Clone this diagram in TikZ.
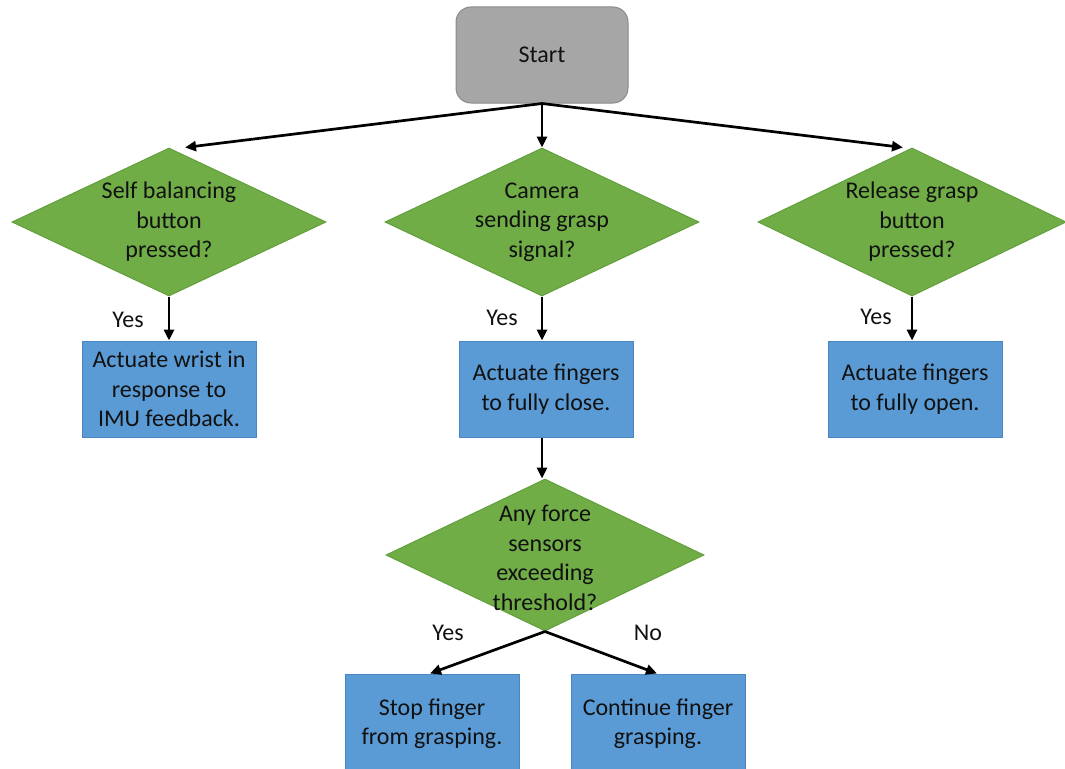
\documentclass[tikz,border=0pt]{standalone}
\usepackage{fontspec}
\setmainfont{Carlito}
\usetikzlibrary{shapes.geometric,arrows.meta}
\definecolor{startfill}{HTML}{A6A6A6}
\definecolor{startline}{HTML}{8A8A8A}
\definecolor{decfill}{HTML}{70AD47}
\definecolor{decline}{HTML}{62A03C}
\definecolor{actfill}{HTML}{5B9BD5}
\definecolor{actline}{HTML}{4A86C2}
\definecolor{ink}{HTML}{111111}
\tikzset{
  every node/.style={text=ink, font=\fontsize{24}{29.5}\selectfont},
  startbox/.style={rectangle, rounded corners=15pt, fill=startfill, draw=startline,
    line width=1pt, minimum width=172pt, minimum height=96pt},
  decision/.style={diamond, fill=decfill, draw=decline, line width=1pt,
    inner sep=0pt, minimum width=314pt, minimum height=148pt},
  decisiontext/.style={align=center, inner sep=0pt},
  action/.style={rectangle, fill=actfill, draw=actline, line width=1pt,
    minimum width=174pt, minimum height=96pt, align=center, inner sep=0pt},
  flow/.style={line width=2.7pt, draw=black, -{Triangle[length=11pt,width=10pt]}},
  answer/.style={inner sep=0pt}
}
\begin{document}
\begin{tikzpicture}[x=1pt,y=-1pt]
\useasboundingbox (0,0) rectangle (1065,768);

% start terminal
\node[startbox] (start) at (542,55) {Start};

% three top-level decisions
\node[decision] (d1) at (169,222) {};
\node[decisiontext] (d1t) at (d1.center) {Self balancing\\button\\pressed?};
\node[decision] (d2) at (542,222) {};
\node[decisiontext] (d2t) at (d2.center) {Camera\\sending grasp\\signal?};
\node[decision, minimum width=308pt] (d3) at (912,222) {};
\node[decisiontext] (d3t) at (d3.center) {Release grasp\\button\\pressed?};

% actions for the top-level decisions
\node[action] (a1) at (169,389) {Actuate wrist in\\response to\\IMU feedback.};
\node[action] (a2) at (546,389) {Actuate fingers\\to fully close.};
\node[action] (a3) at (915,389) {Actuate fingers\\to fully open.};

% force threshold check
\node[decision, minimum width=318pt, minimum height=152pt] (d4) at (545,555) {};
\node[decisiontext] (d4t) at (545,558) {Any force\\sensors\\exceeding\\threshold?};

% final actions
\node[action, minimum height=100pt] (a4) at (432,724) {Stop finger\\from grasping.};
\node[action, minimum height=100pt] (a5) at (658,724) {Continue finger\\grasping.};

% connectors
\draw[flow] (start.south) -- ([xshift=16pt]d1.north);
\draw[flow] (start.south) -- (d2.north);
\draw[flow] (start.south) -- ([xshift=-9pt]d3.north);

\draw[flow] (d1.south) -- (a1.north);
\draw[flow] (d2.south) -- (a2.north -| d2.south);
\draw[flow] (d3.south) -- (a3.north -| d3.south);
\draw[flow] (a2.south -| d2.south) -- (d4.north -| d2.south);

\draw[flow] (d4.south) -- ([xshift=-2pt]a4.north);
\draw[flow] (d4.south) -- ([xshift=-1pt]a5.north);

% branch labels
\node[answer] (y1) at (128,320) {Yes};
\node[answer] (y2) at (502,318) {Yes};
\node[answer] (y3) at (876,317) {Yes};
\node[answer] (y4) at (448,633) {Yes};
\node[answer] (n4) at (648,633) {No};
\end{tikzpicture}
\end{document}
